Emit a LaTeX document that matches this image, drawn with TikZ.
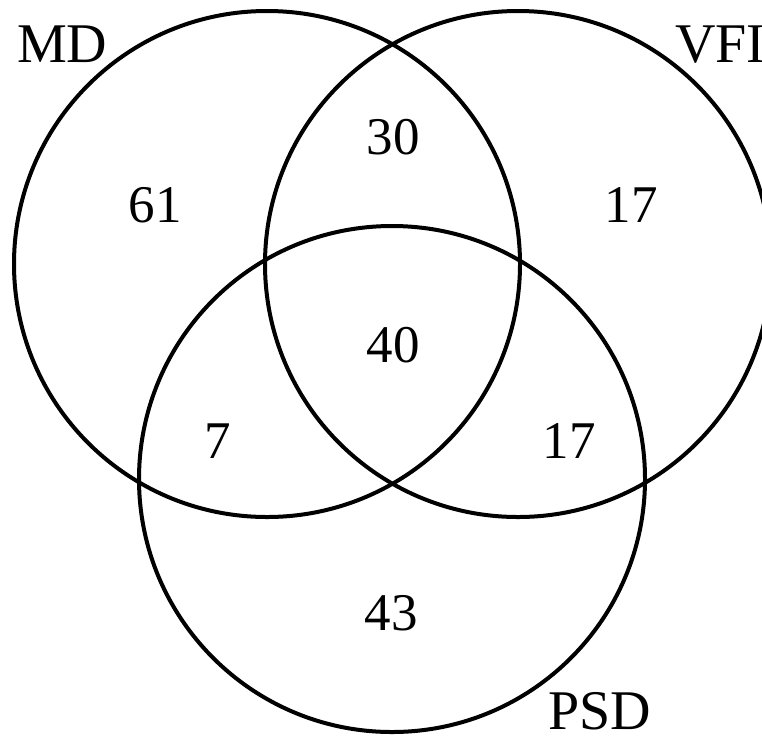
\documentclass[tikz,border=0pt]{standalone}
\usepackage{fontspec}
\setmainfont{Liberation Serif}
\begin{document}
\begin{tikzpicture}[x=1pt,y=-1pt,
  set/.style={circle, draw=black, line width=4pt, minimum size=506pt, inner sep=0pt},
  lbl/.style={font=\fontsize{56}{56}\selectfont, inner sep=0pt, anchor=base west},
  num/.style={font=\fontsize{53}{53}\selectfont, inner sep=0pt, anchor=base}]
  \useasboundingbox (0,0) rectangle (762,737);
  % the three sets
  \node[set] (md)  at (267,264) {};
  \node[set] (vfi) at (518,264) {};
  \node[set] (psd) at (392,479) {};
  % set names
  \node[lbl] (mdname)  at (17,62)  {MD};
  \node[lbl] (vfiname) at (675,62) {VFI};
  \node[lbl] (psdname) at (548,729) {PSD};
  % region counts
  \node[num] (onlymd)  at (155,222) {61};
  \node[num] (onlyvfi) at (631,222) {17};
  \node[num] (mdvfi)   at (393,154) {30};
  \node[num] (all)     at (393,362) {40};
  \node[num] (mdpsd)   at (218,458) {7};
  \node[num] (vfipsd)  at (569,458) {17};
  \node[num] (onlypsd) at (391,630) {43};
\end{tikzpicture}
\end{document}
